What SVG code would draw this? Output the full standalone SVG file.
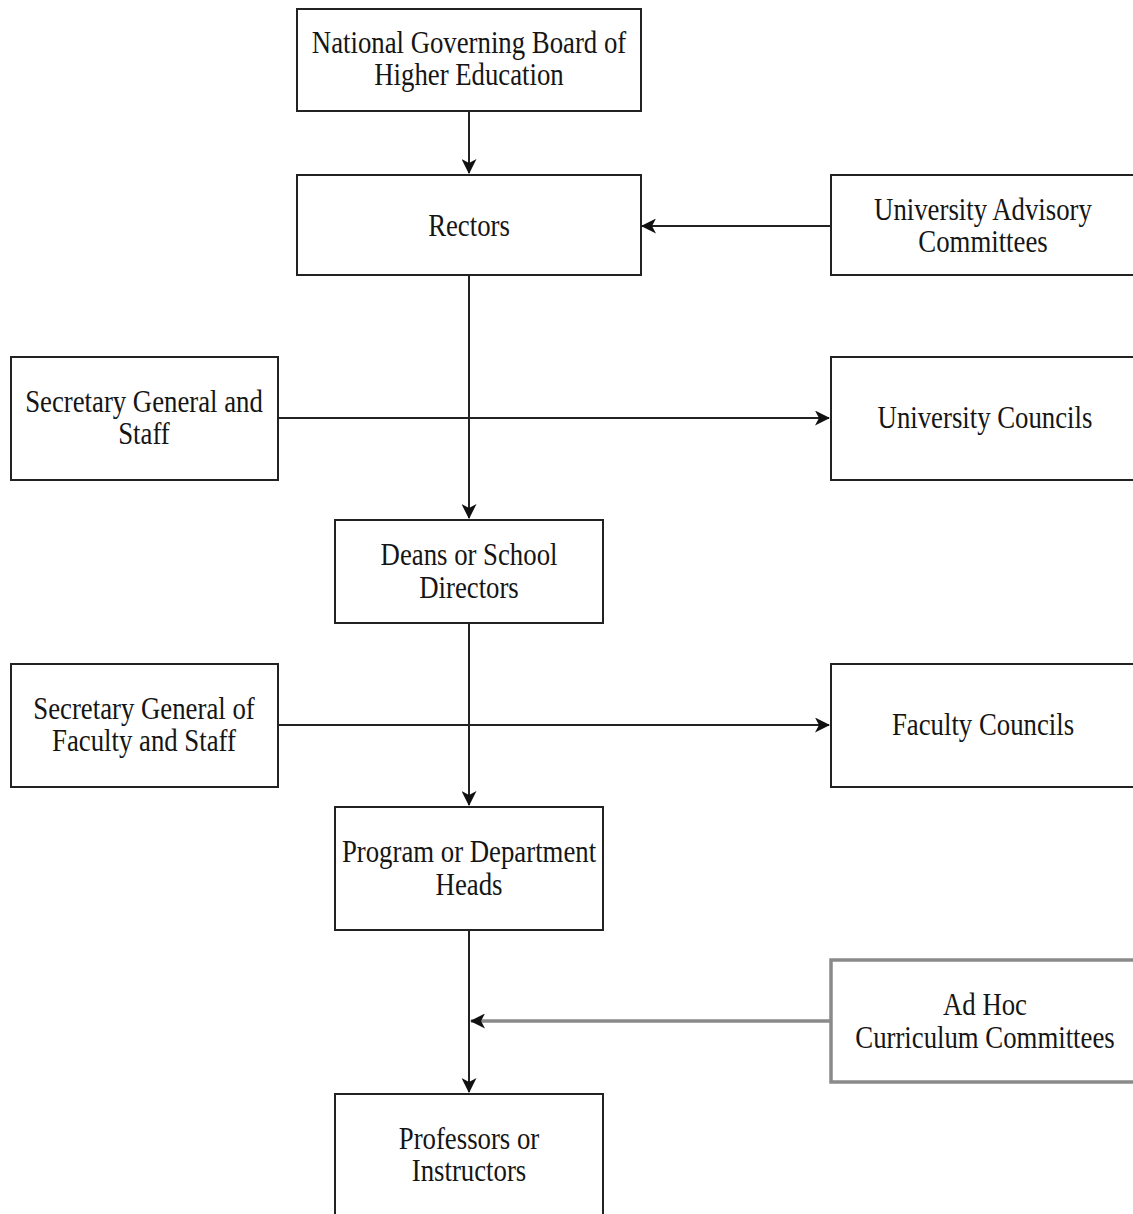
<svg xmlns="http://www.w3.org/2000/svg" width="1133" height="1214" viewBox="0 0 1133 1214">
<style>
.box{fill:#fff;stroke:#222;stroke-width:2}
.gbox{fill:#fff;stroke:#8a8a8a;stroke-width:3.5}
.lbl{font-family:"Liberation Serif","Times New Roman",serif;font-size:31.5px;fill:#151515;text-anchor:middle}
.ln{fill:none;stroke:#222;stroke-width:2}
.gln{fill:none;stroke:#8a8a8a;stroke-width:3.5}
</style>
<defs>
<marker id="ah" viewBox="0 0 15 15" refX="14" refY="7.5" markerWidth="15" markerHeight="15" markerUnits="userSpaceOnUse" orient="auto">
<path d="M0,0 L15,7.5 L0,15 L4,7.5 Z" fill="#111"/>
</marker>
</defs>
<rect width="1133" height="1214" fill="#fff"/>
<g id="connectors">
<path class="ln" d="M469,111 V173" marker-end="url(#ah)"/>
<path class="ln" d="M831,226 H642" marker-end="url(#ah)"/>
<path class="ln" d="M469,275 V518" marker-end="url(#ah)"/>
<path class="ln" d="M278,418 H829" marker-end="url(#ah)"/>
<path class="ln" d="M469,623 V805" marker-end="url(#ah)"/>
<path class="ln" d="M278,725 H829" marker-end="url(#ah)"/>
<path class="ln" d="M469,930 V1092" marker-end="url(#ah)"/>
<path class="gln" d="M831,1021 H471" marker-end="url(#ah)"/>
</g>
<g id="national">
<rect class="box" x="297" y="9" width="344" height="102"/>
<g transform="translate(469,0) scale(0.85,1)"><text class="lbl" x="0" y="53">National Governing Board of</text><text class="lbl" x="0" y="85">Higher Education</text></g>
</g>
<g id="rectors">
<rect class="box" x="297" y="175" width="344" height="100"/>
<g transform="translate(469,0) scale(0.85,1)"><text class="lbl" x="0" y="236.5">Rectors</text></g>
</g>
<g id="advisory">
<rect class="box" x="831" y="175" width="320" height="100"/>
<g transform="translate(983,0) scale(0.85,1)"><text class="lbl" x="0" y="220.5">University Advisory</text><text class="lbl" x="0" y="252.5">Committees</text></g>
</g>
<g id="secgen">
<rect class="box" x="11" y="357" width="267" height="123"/>
<g transform="translate(144,0) scale(0.85,1)"><text class="lbl" x="0" y="412.5">Secretary General and</text><text class="lbl" x="0" y="444.5">Staff</text></g>
</g>
<g id="univcouncils">
<rect class="box" x="831" y="357" width="320" height="123"/>
<g transform="translate(985,0) scale(0.85,1)"><text class="lbl" x="0" y="428.5">University Councils</text></g>
</g>
<g id="deans">
<rect class="box" x="335" y="520" width="268" height="103"/>
<g transform="translate(469,0) scale(0.85,1)"><text class="lbl" x="0" y="565.5">Deans or School</text><text class="lbl" x="0" y="598">Directors</text></g>
</g>
<g id="secgenfac">
<rect class="box" x="11" y="664" width="267" height="123"/>
<g transform="translate(144,0) scale(0.85,1)"><text class="lbl" x="0" y="719.5">Secretary General of</text><text class="lbl" x="0" y="751.5">Faculty and Staff</text></g>
</g>
<g id="facultycouncils">
<rect class="box" x="831" y="664" width="320" height="123"/>
<g transform="translate(983,0) scale(0.85,1)"><text class="lbl" x="0" y="735.5">Faculty Councils</text></g>
</g>
<g id="program">
<rect class="box" x="335" y="807" width="268" height="123"/>
<g transform="translate(469,0) scale(0.85,1)"><text class="lbl" x="0" y="862.5">Program or Department</text><text class="lbl" x="0" y="895">Heads</text></g>
</g>
<g id="adhoc">
<rect class="gbox" x="831" y="960" width="320" height="122"/>
<g transform="translate(985,0) scale(0.85,1)"><text class="lbl" x="0" y="1015.5">Ad Hoc</text><text class="lbl" x="0" y="1048">Curriculum Committees</text></g>
</g>
<g id="professors">
<rect class="box" x="335" y="1094" width="268" height="140"/>
<g transform="translate(469,0) scale(0.85,1)"><text class="lbl" x="0" y="1149.5">Professors or</text><text class="lbl" x="0" y="1181.5">Instructors</text></g>
</g>
</svg>
